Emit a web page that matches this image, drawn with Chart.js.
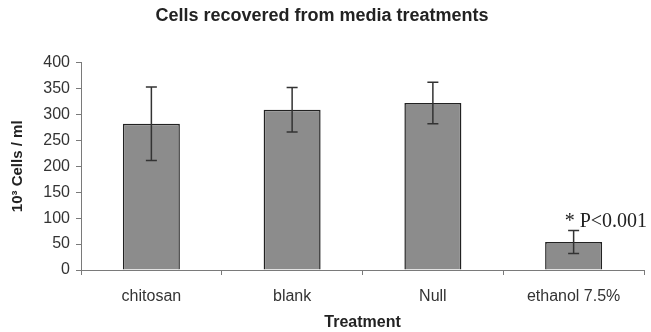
<!DOCTYPE html>
<html>
<head>
<meta charset="utf-8">
<script src="https://cdn.jsdelivr.net/npm/chart.js@4"></script>
<style>
  html, body { margin: 0; padding: 0; background: #fff; }
  #wrap { width: 651px; height: 332px; }
</style>
</head>
<body>
<div id="wrap"><canvas id="cells-chart"></canvas></div>
<script>
// Cells recovered per treatment (10^3 cells / ml)
const treatments = ['chitosan', 'blank', 'Null', 'ethanol 7.5%'];
const cellCounts = [282, 309, 322, 54];
const cellErrors = [71, 43, 40, 22];
const yTicks = [0, 50, 100, 150, 200, 250, 300, 350, 400];
const sigLabel = '* P<0.001';
const sigIndex = 3;

const axisColor = '#7a7a7a';
const textColor = '#333';

// draws the +/- error whiskers on top of each bar
const errorBars = {
    id: 'errorBars',
    afterDatasetsDraw(chart) {
        const ctx = chart.ctx;
        const y = chart.scales.y;
        const meta = chart.getDatasetMeta(0);
        ctx.save();
        ctx.strokeStyle = '#333';
        ctx.lineWidth = 1.5;
        meta.data.forEach((bar, i) => {
            const top = y.getPixelForValue(cellCounts[i] + cellErrors[i]);
            const bottom = y.getPixelForValue(cellCounts[i] - cellErrors[i]);
            ctx.beginPath();
            ctx.moveTo(bar.x, top);
            ctx.lineTo(bar.x, bottom);
            ctx.moveTo(bar.x - 5.5, top);
            ctx.lineTo(bar.x + 5.5, top);
            ctx.moveTo(bar.x - 5.5, bottom);
            ctx.lineTo(bar.x + 5.5, bottom);
            ctx.stroke();
        });
        // significance note above the ethanol bar
        const b = meta.data[sigIndex];
        ctx.fillStyle = '#222';
        ctx.font = '20px "Liberation Serif", "DejaVu Serif", serif';
        ctx.textAlign = 'left';
        ctx.textBaseline = 'alphabetic';
        ctx.fillText(sigLabel, b.x - 9, y.getPixelForValue(cellCounts[sigIndex] + cellErrors[sigIndex]) - 4);
        ctx.restore();
    }
};

new Chart(document.getElementById('cells-chart'), {
    type: 'bar',
    data: {
        labels: treatments,
        datasets: [{
            data: cellCounts,
            backgroundColor: '#8c8c8c',
            borderColor: '#222',
            borderWidth: 1.5,
            barPercentage: 0.405,
            categoryPercentage: 1
        }]
    },
    options: {
        responsive: true,
        maintainAspectRatio: false,
        animation: false,
        layout: { padding: { left: 0, right: 7, top: 0, bottom: 0 } },
        plugins: {
            legend: { display: false },
            tooltip: { enabled: false },
            title: {
                display: true,
                text: 'Cells recovered from media treatments',
                color: '#222',
                font: { family: '"Liberation Sans", Arial, sans-serif', size: 18, weight: 'bold' },
                padding: { top: 5, bottom: 36 }
            }
        },
        scales: {
            x: {
                grid: { display: true, drawOnChartArea: false, offset: true, color: axisColor, tickLength: 5 },
                border: { color: axisColor, width: 1 },
                ticks: { color: textColor, padding: 12, font: { family: '"Liberation Sans", Arial, sans-serif', size: 16 } },
                title: {
                    display: true,
                    text: 'Treatment',
                    color: '#222',
                    font: { family: '"Liberation Sans", Arial, sans-serif', size: 16, weight: 'bold' },
                    padding: { top: 4, bottom: 0 }
                },
                afterFit(scale) { scale.height = 62; }
            },
            y: {
                min: 0,
                max: 400,
                afterBuildTicks(scale) { scale.ticks = yTicks.map(v => ({ value: v })); },
                grid: { display: true, drawOnChartArea: false, color: axisColor, tickLength: 5 },
                border: { color: axisColor, width: 1 },
                ticks: { color: textColor, padding: 6, font: { family: '"Liberation Sans", Arial, sans-serif', size: 16 } },
                title: {
                    display: true,
                    text: '10³ Cells / ml',
                    color: '#222',
                    font: { family: '"Liberation Sans", Arial, sans-serif', size: 15, weight: 'bold' },
                    padding: { top: 9, bottom: 0 }
                },
                afterFit(scale) { scale.width = 81; }
            }
        }
    },
    plugins: [errorBars]
});
</script>
</body>
</html>
